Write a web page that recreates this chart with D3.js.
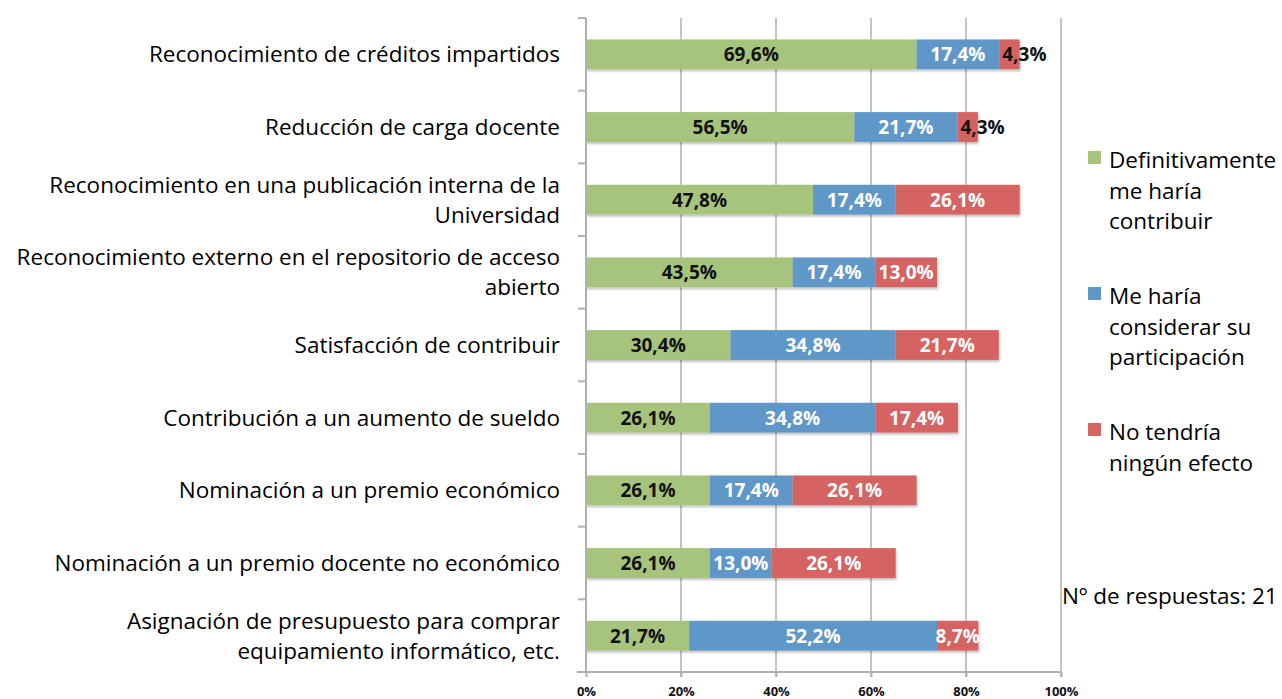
<!DOCTYPE html>
<html>
<head>
<meta charset="utf-8">
<script src="https://cdnjs.cloudflare.com/ajax/libs/d3/7.8.5/d3.min.js"></script>
<style>
	body { margin: 0; background: #fff; overflow: hidden; }
	svg text { font-family: "Open Sans", "Noto Sans", sans-serif; }
</style>
</head>
<body>
<div id="container"></div>
<script>
// categories (top to bottom), "\n" marks the line break of the original label
var categories = [
	"Reconocimiento de créditos impartidos",
	"Reducción de carga docente",
	"Reconocimiento en una publicación interna de la\nUniversidad",
	"Reconocimiento externo en el repositorio de acceso\nabierto",
	"Satisfacción de contribuir",
	"Contribución a un aumento de sueldo",
	"Nominación a un premio económico",
	"Nominación a un premio docente no económico",
	"Asignación de presupuesto para comprar\nequipamiento informático, etc."
];

var definitivamente = [69.6, 56.5, 47.8, 43.5, 30.4, 26.1, 26.1, 26.1, 21.7];
var considerar      = [17.4, 21.7, 17.4, 17.4, 34.8, 34.8, 17.4, 13.0, 52.2];
var sinEfecto       = [4.3, 4.3, 26.1, 13.0, 21.7, 17.4, 26.1, 26.1, 8.7];

var seriesNames = [
	["Definitivamente", "me haría", "contribuir"],
	["Me haría", "considerar su", "participación"],
	["No tendría", "ningún efecto"]
];
var seriesColors = ["#a7c47c", "#5f97c9", "#d56462"];
var ticks = [0, 20, 40, 60, 80, 100];
var nota = "Nº de respuestas: 21";

function render(){
	var width = 1282, height = 699;

	var svg = d3.select("#container")
		.append("svg")
		.attr("width", width)
		.attr("height", height);

	var x = d3.scaleLinear().domain([0, 100]).range([586, 1061]);
	var y = d3.scaleBand()
		.domain(categories)
		.range([18, 672])
		.paddingInner(0.59)
		.paddingOuter(0.295);

	var data = categories.map(function(c, i) {
		return { cat: c, vals: [definitivamente[i], considerar[i], sinEfecto[i]] };
	});

	// grid
	svg.append("g")
		.selectAll("line")
		.data(ticks.slice(1))
		.enter().append("line")
		.attr("x1", function(d) { return x(d); })
		.attr("x2", function(d) { return x(d); })
		.attr("y1", y.range()[0])
		.attr("y2", y.range()[1] + 5)
		.attr("stroke", "#c4c4c4")
		.attr("stroke-width", 2);

	// shadow
	var defs = svg.append("defs");
	var f = defs.append("filter").attr("id", "sh").attr("x", "-5%").attr("y", "-20%").attr("width", "110%").attr("height", "150%");
	f.append("feDropShadow").attr("dx", 1).attr("dy", 2).attr("stdDeviation", 1.2).attr("flood-color", "#000").attr("flood-opacity", 0.25);

	// bars
	var rows = svg.append("g").selectAll("g.row")
		.data(data)
		.enter().append("g")
		.attr("class", "row");

	rows.each(function(d) {
		var g = d3.select(this);
		var start = 0;
		var segs = d.vals.map(function(v, k) {
			var s = { k: k, v: v, x0: start, x1: start + v };
			start += v;
			return s;
		});
		g.append("g").attr("filter", "url(#sh)")
			.selectAll("rect")
			.data(segs)
			.enter().append("rect")
			.attr("x", function(s) { return x(s.x0); })
			.attr("width", function(s) { return x(s.x1) - x(s.x0); })
			.attr("y", y(d.cat))
			.attr("height", y.bandwidth())
			.attr("fill", function(s) { return seriesColors[s.k]; });

		g.selectAll("text.val")
			.data(segs)
			.enter().append("text")
			.attr("class", "val")
			.attr("x", function(s) {
				var w = x(s.x1) - x(s.x0);
				return w < 30 ? x(s.x0) + 3 : (x(s.x0) + x(s.x1)) / 2;
			})
			.attr("y", y(d.cat) + y.bandwidth() / 2)
			.attr("dy", "0.36em")
			.attr("text-anchor", function(s) { return (x(s.x1) - x(s.x0)) < 30 ? "start" : "middle"; })
			.attr("font-size", "19px")
			.attr("font-weight", "bold")
			.attr("fill", function(s) {
				if (s.k == 0) return "#111";
				return (x(s.x1) - x(s.x0)) < 30 ? "#111" : "#fff";
			})
			.text(function(s) { return s.v.toFixed(1).replace(".", ",") + "%"; });
	});

	// left axis line + band ticks
	var step = y.step();
	svg.append("line")
		.attr("x1", x(0)).attr("x2", x(0))
		.attr("y1", y.range()[0]).attr("y2", y.range()[1])
		.attr("stroke", "#b0b0b0").attr("stroke-width", 2);
	svg.append("g").selectAll("line")
		.data(d3.range(categories.length + 1))
		.enter().append("line")
		.attr("x1", x(0) - 8).attr("x2", x(0))
		.attr("y1", function(i) { return y.range()[0] + i * step; })
		.attr("y2", function(i) { return y.range()[0] + i * step; })
		.attr("stroke", "#b0b0b0").attr("stroke-width", 2);

	// bottom axis
	var xAxis = svg.append("g")
		.attr("transform", "translate(0," + y.range()[1] + ")")
		.call(d3.axisBottom(x)
			.tickValues(ticks)
			.tickSize(5)
			.tickPadding(10)
			.tickFormat(function(d) { return d + "%"; })
		);
	xAxis.select(".domain").attr("stroke", "#b0b0b0").attr("stroke-width", 2)
		.attr("d", "M" + (x(0) - 9) + ",0H" + (x(100) + 1));
	xAxis.selectAll(".tick line").attr("stroke", "#b0b0b0").attr("stroke-width", 2);
	xAxis.selectAll(".tick text")
		.attr("font-size", "13px")
		.attr("font-weight", "bold")
		.attr("fill", "#111");

	// category labels
	var labels = svg.append("g").selectAll("text.cat")
		.data(categories)
		.enter().append("text")
		.attr("class", "cat")
		.attr("x", 560)
		.attr("text-anchor", "end")
		.attr("font-size", "22.5px")
		.attr("fill", "#000");
	labels.each(function(c) {
		var lines = c.split("\n");
		var cy = y(c) + y.bandwidth() / 2;
		var lh = 30;
		var t = d3.select(this);
		lines.forEach(function(l, j) {
			t.append("tspan")
				.attr("x", 560)
				.attr("y", cy + (j - (lines.length - 1) / 2) * lh)
				.attr("dy", "0.36em")
				.text(l);
		});
	});

	// legend
	var legendTop = [160, 296, 432];
	var leg = svg.append("g").selectAll("g")
		.data(seriesNames)
		.enter().append("g");
	leg.append("rect")
		.attr("x", 1088)
		.attr("y", function(d, i) { return legendTop[i] - 9; })
		.attr("width", 13).attr("height", 13)
		.attr("fill", function(d, i) { return seriesColors[i]; });
	leg.each(function(d, i) {
		var t = d3.select(this).append("text")
			.attr("font-size", "22.5px")
			.attr("fill", "#000");
		d.forEach(function(l, j) {
			t.append("tspan")
				.attr("x", 1109)
				.attr("y", legendTop[i] + j * 30.5)
				.attr("dy", "0.36em")
				.text(l);
		});
	});

	svg.append("text")
		.attr("x", 1062)
		.attr("y", 596)
		.attr("dy", "0.36em")
		.attr("font-size", "22.5px")
		.attr("fill", "#000")
		.text(nota);
}
render();
</script>
</body>
</html>
